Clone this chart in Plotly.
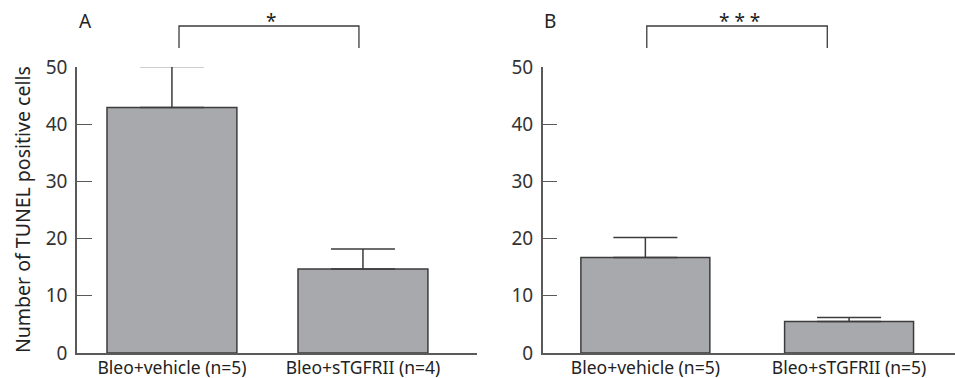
import plotly.graph_objects as go

categories_A = ["Bleo+vehicle (n=5)", "Bleo+sTGFRII (n=4)"]
means_A = [42.9, 14.7]
errors_A = [7.2, 3.5]

categories_B = ["Bleo+vehicle (n=5)", "Bleo+sTGFRII (n=5)"]
means_B = [16.7, 5.5]
errors_B = [3.5, 0.7]

y_ticks = [0, 10, 20, 30, 40, 50]
y_title = "Number of TUNEL positive cells"
sig_A = "*"
sig_B = "* * *"

FONT = "Noto Sans"
BAR_FILL = "#a8a9ac"
LINE = "#3c3c3c"
AXIS = "#5a5a5a"

W, H = 955, 378

fig = go.Figure()
fig.add_trace(go.Bar(
    x=[0, 1], y=means_A, width=0.68, xaxis="x", yaxis="y",
    marker=dict(color=BAR_FILL, line=dict(color=LINE, width=1.5)),
    error_y=dict(type="data", array=errors_A, arrayminus=[0, 0], symmetric=False,
                 color=LINE, thickness=1.5, width=32),
    showlegend=False))
fig.add_trace(go.Bar(
    x=[0, 1], y=means_B, width=0.633, xaxis="x2", yaxis="y2",
    marker=dict(color=BAR_FILL, line=dict(color=LINE, width=1.5)),
    error_y=dict(type="data", array=errors_B, arrayminus=[0, 0], symmetric=False,
                 color=LINE, thickness=1.5, width=32),
    showlegend=False))

ydom = [25 / H, 311 / H]
common_y = dict(range=[0, 50], tickvals=y_ticks, ticks="inside", ticklen=15,
                tickwidth=1.3, tickcolor=AXIS, showline=True, linecolor=AXIS,
                linewidth=1.5, showgrid=False, zeroline=False, domain=ydom,
                tickfont=dict(family=FONT, size=19, color="#333"),
                ticklabelstandoff=4, automargin=False)
common_x = dict(showline=True, linecolor=AXIS, linewidth=1.5, showgrid=False,
                zeroline=False, ticks="", automargin=False, ticklabelstandoff=-2,
                tickfont=dict(family=FONT, size=17.5, color="#222"))

fig.update_layout(
    template="none",
    width=W, height=H, margin=dict(l=0, r=0, t=0, b=0),
    paper_bgcolor="white", plot_bgcolor="white",
    xaxis=dict(domain=[77 / W, 477 / W], range=[-0.497, 1.597],
               tickvals=[0, 1], ticktext=categories_A, anchor="y", **common_x),
    xaxis2=dict(domain=[542.7 / W, 1.0], range=[-0.504, 1.52],
                tickvals=[0, 1], ticktext=categories_B, anchor="y2", **common_x),
    yaxis=dict(anchor="x", **common_y),
    yaxis2=dict(anchor="x2", **common_y),
)

# significance brackets
yb_top = 1 - 26 / H
yb_bot = 1 - 48 / H
for xref, x0, x1 in [("x", 0.037, 0.979), ("x2", 0.007, 0.893)]:
    fig.add_shape(type="path", xref=xref, yref="paper",
                  path=f"M {x0},{yb_bot} L {x0},{yb_top} L {x1},{yb_top} L {x1},{yb_bot}",
                  line=dict(color=LINE, width=1.3))

txt = dict(showarrow=False, xanchor="center", yanchor="middle")
fig.add_annotation(text=sig_A, xref="x", yref="paper", x=0.52, y=1 - 21 / H,
                   font=dict(family=FONT, size=19, color="#222"), **txt)
fig.add_annotation(text=sig_B, xref="x2", yref="paper", x=0.46, y=1 - 21 / H,
                   font=dict(family=FONT, size=19, color="#222"), **txt)
fig.add_annotation(text="A", xref="paper", yref="paper", x=85 / W, y=1 - 21 / H,
                   font=dict(family=FONT, size=19, color="#222"), **txt)
fig.add_annotation(text="B", xref="paper", yref="paper", x=550 / W, y=1 - 21 / H,
                   font=dict(family=FONT, size=19, color="#222"), **txt)
fig.add_annotation(text=y_title, xref="paper", yref="paper", x=22 / W, y=1 - 210 / H,
                   textangle=-90, font=dict(family=FONT, size=19.5, color="#222"), **txt)

fig.write_html("out.html", config={"displayModeBar": False},
               post_script="document.body.style.margin='0';")
